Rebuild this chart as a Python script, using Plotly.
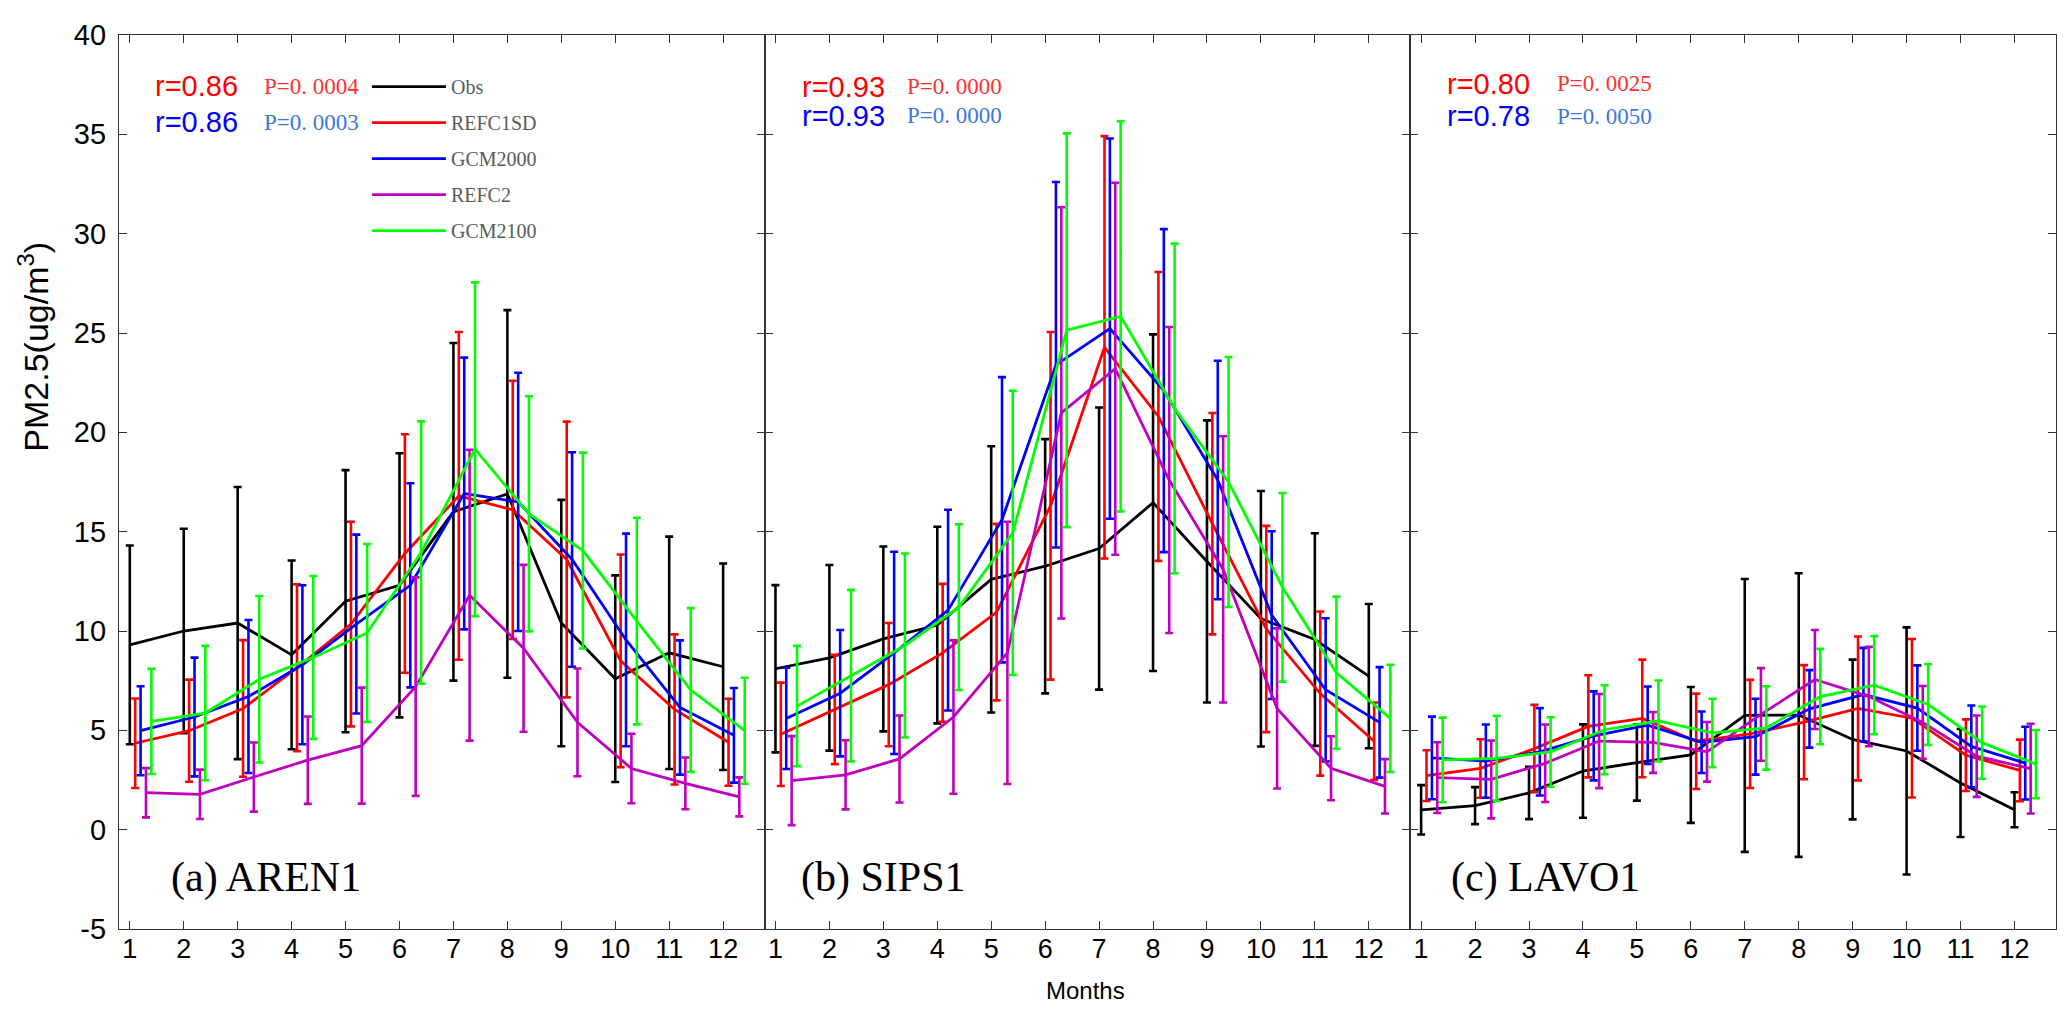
import plotly.graph_objects as go

months = list(range(1, 13))
series_names = ["Obs", "REFC1SD", "GCM2000", "REFC2", "GCM2100"]
series_colors = ["#000000", "#ff0000", "#0000ff", "#bf00bf", "#00ff00"]
x_ticks = list(range(1, 13))
y_ticks = list(range(-5, 41, 5))
y_tick_text = ["-5", "0", "5", "10", "15", "20", "25", "30", "35", "40"]

# (a) AREN1
aren1_obs_mean = [9.3, 10.0, 10.4, 8.8, 11.5, 12.3, 16.0, 16.9, 10.4, 7.6, 8.9, 8.2]
aren1_obs_std = [5.0, 5.15, 6.85, 4.75, 6.6, 6.65, 8.5, 9.25, 6.2, 5.2, 5.85, 5.2]
aren1_refc1sd_mean = [4.35, 4.98, 6.1, 8.15, 10.35, 13.9, 16.8, 16.1, 13.6, 8.5, 6.05, 4.4]
aren1_refc1sd_std = [2.25, 2.57, 3.44, 4.2, 5.15, 6.0, 8.25, 6.5, 6.94, 5.35, 3.78, 2.19]
aren1_gcm2000_mean = [4.98, 5.67, 6.7, 8.3, 10.35, 12.3, 16.92, 16.5, 13.6, 9.55, 6.15, 4.75]
aren1_gcm2000_std = [2.24, 2.99, 3.85, 4.0, 4.5, 5.14, 6.84, 6.5, 5.4, 5.35, 3.38, 2.38]
aren1_refc2_mean = [1.86, 1.78, 2.65, 3.5, 4.23, 7.2, 11.8, 9.13, 5.4, 3.08, 2.33, 1.65]
aren1_refc2_std = [1.24, 1.24, 1.74, 2.2, 2.92, 5.5, 7.32, 4.2, 2.71, 1.75, 1.3, 0.98]
aren1_gcm2100_mean = [5.45, 5.87, 7.57, 8.67, 9.9, 13.95, 19.15, 15.9, 14.05, 10.5, 7.03, 4.98]
aren1_gcm2100_std = [2.65, 3.38, 4.19, 4.1, 4.48, 6.6, 8.4, 5.92, 4.93, 5.2, 4.12, 2.67]

# (b) SIPS1
sips1_obs_mean = [8.1, 8.65, 9.6, 10.3, 12.6, 13.26, 14.15, 16.46, 13.5, 10.62, 9.57, 7.73]
sips1_obs_std = [4.21, 4.67, 4.65, 4.95, 6.7, 6.4, 7.1, 8.47, 7.1, 6.43, 5.35, 3.63]
sips1_refc1sd_mean = [4.8, 6.05, 7.3, 8.9, 10.95, 16.3, 24.28, 20.8, 15.4, 10.1, 6.85, 4.45]
sips1_refc1sd_std = [2.6, 2.75, 3.1, 3.47, 4.44, 8.75, 10.63, 7.27, 5.57, 5.19, 4.13, 1.95]
sips1_gcm2000_mean = [5.6, 6.87, 8.9, 11.05, 15.6, 23.4, 25.22, 22.1, 17.6, 10.8, 7.04, 5.4]
sips1_gcm2000_std = [2.55, 3.18, 5.09, 5.05, 7.18, 9.2, 9.57, 8.13, 6.0, 4.22, 3.6, 2.78]
sips1_refc2_mean = [2.47, 2.76, 3.56, 5.67, 8.9, 20.98, 23.2, 17.6, 13.1, 6.1, 3.09, 2.18]
sips1_refc2_std = [2.24, 1.74, 2.19, 3.86, 6.6, 10.35, 9.36, 7.7, 6.7, 4.03, 1.61, 1.37]
sips1_gcm2100_mean = [6.22, 7.75, 9.27, 11.2, 14.94, 25.14, 25.84, 21.2, 17.5, 12.2, 7.9, 5.6]
sips1_gcm2100_std = [3.03, 4.32, 4.63, 4.17, 7.15, 9.91, 9.82, 8.3, 6.29, 4.75, 3.83, 2.7]

# (c) LAVO1
lavo1_obs_mean = [1.0, 1.21, 1.85, 2.95, 3.38, 3.76, 5.75, 5.77, 4.54, 3.96, 2.35, 1.0]
lavo1_obs_std = [1.24, 0.93, 1.32, 2.35, 1.92, 3.42, 6.87, 7.14, 4.02, 6.22, 2.72, 0.88]
lavo1_refc1sd_mean = [2.72, 3.08, 4.08, 5.2, 5.6, 4.45, 4.82, 5.41, 6.1, 5.61, 3.75, 2.98]
lavo1_refc1sd_std = [1.28, 1.47, 2.2, 2.57, 2.96, 2.4, 2.72, 2.87, 3.62, 3.99, 1.8, 1.55]
lavo1_gcm2000_mean = [3.61, 3.45, 3.92, 4.72, 5.26, 4.4, 4.68, 6.08, 6.8, 6.12, 4.19, 3.35]
lavo1_gcm2000_std = [2.08, 1.84, 2.2, 2.24, 1.95, 1.55, 1.91, 1.95, 2.35, 2.15, 2.06, 1.83]
lavo1_refc2_mean = [2.62, 2.53, 3.34, 4.46, 4.39, 3.92, 5.8, 7.56, 6.7, 5.4, 3.7, 3.07]
lavo1_refc2_std = [1.78, 1.96, 1.95, 2.37, 1.53, 1.5, 2.33, 2.49, 2.5, 1.83, 2.05, 2.26]
lavo1_gcm2100_mean = [3.51, 3.59, 3.91, 5.03, 5.47, 4.87, 5.12, 6.7, 7.27, 6.3, 4.38, 3.3]
lavo1_gcm2100_std = [2.13, 2.14, 1.75, 2.24, 2.04, 1.72, 2.1, 2.4, 2.47, 2.03, 1.82, 1.72]

panel_labels = ["(a) AREN1", "(b) SIPS1", "(c) LAVO1"]
r_red = ["r=0.86", "r=0.93", "r=0.80"]
r_blue = ["r=0.86", "r=0.93", "r=0.78"]
p_red = ["P=0. 0004", "P=0. 0000", "P=0. 0025"]
p_blue = ["P=0. 0003", "P=0. 0000", "P=0. 0050"]

panels = [
    [(aren1_obs_mean, aren1_obs_std), (aren1_refc1sd_mean, aren1_refc1sd_std),
     (aren1_gcm2000_mean, aren1_gcm2000_std), (aren1_refc2_mean, aren1_refc2_std),
     (aren1_gcm2100_mean, aren1_gcm2100_std)],
    [(sips1_obs_mean, sips1_obs_std), (sips1_refc1sd_mean, sips1_refc1sd_std),
     (sips1_gcm2000_mean, sips1_gcm2000_std), (sips1_refc2_mean, sips1_refc2_std),
     (sips1_gcm2100_mean, sips1_gcm2100_std)],
    [(lavo1_obs_mean, lavo1_obs_std), (lavo1_refc1sd_mean, lavo1_refc1sd_std),
     (lavo1_gcm2000_mean, lavo1_gcm2000_std), (lavo1_refc2_mean, lavo1_refc2_std),
     (lavo1_gcm2100_mean, lavo1_gcm2100_std)],
]

SANS = "Liberation Sans, Arial, sans-serif"
SERIF = "Liberation Serif, Times New Roman, serif"
AXC = "#333333"

fig = go.Figure()
for p, panel in enumerate(panels):
    xa = "x" if p == 0 else f"x{p+1}"
    ya = "y" if p == 0 else f"y{p+1}"
    for s, (mean, std) in enumerate(panel):
        xs = [m + 0.1 * s for m in months]
        fig.add_trace(go.Scatter(
            x=xs, y=mean, mode="lines", name=series_names[s],
            line=dict(color=series_colors[s], width=2.8),
            error_y=dict(type="data", array=std, symmetric=True,
                         color=series_colors[s], thickness=2.6, width=4),
            xaxis=xa, yaxis=ya, legendgroup=series_names[s],
            showlegend=(p == 0),
        ))

layout = dict(
    width=2067, height=1024,
    margin=dict(l=111, r=19, t=27, b=103),
    paper_bgcolor="white", plot_bgcolor="white",
    font=dict(family=SANS, color="black"),
    legend=dict(x=0.128, y=0.964, xanchor="left", yanchor="top",
                bgcolor="rgba(0,0,0,0)", font=dict(family=SERIF, size=20, color="#5a5a5a"),
                tracegroupgap=7, itemwidth=74),
)
for p in range(3):
    xk = "xaxis" if p == 0 else f"xaxis{p+1}"
    yk = "yaxis" if p == 0 else f"yaxis{p+1}"
    layout[xk] = dict(
        domain=[p / 3, (p + 1) / 3], anchor="y" if p == 0 else f"y{p+1}",
        range=[0.8, 12.77], tickvals=x_ticks, ticktext=[str(t) for t in x_ticks],
        ticks="inside", ticklen=8, tickwidth=1.4, tickcolor=AXC,
        showline=True, linecolor=AXC, linewidth=1.3, mirror="ticks",
        showgrid=False, zeroline=False,
        tickfont=dict(family=SANS, size=27, color="black"), ticklabelstandoff=-5,
    )
    layout[yk] = dict(
        domain=[0, 1], anchor="x" if p == 0 else f"x{p+1}",
        range=[-5, 40], tickvals=y_ticks, ticktext=y_tick_text,
        ticks="inside", ticklen=8, tickwidth=1.4,
        tickcolor=AXC, showline=True, linecolor=AXC, linewidth=1.3, mirror="ticks",
        showgrid=False, zeroline=False, showticklabels=(p == 0),
        tickfont=dict(family=SANS, size=29, color="black"), ticklabelstandoff=6,
    )
fig.update_layout(**layout)

label_x = [0.078, 0.053, 0.060]
r_x = [0.053, 0.055, 0.054]
p_x = [0.222, 0.218, 0.224]
r_y1 = [37.42, 37.4, 37.55]
r_y2 = [35.6, 35.94, 35.9]
for p in range(3):
    xd = "x domain" if p == 0 else f"x{p+1} domain"
    yr = "y" if p == 0 else f"y{p+1}"
    fig.add_annotation(x=label_x[p], y=-2.4, xref=xd, yref=yr, text=panel_labels[p],
                       showarrow=False, xanchor="left", yanchor="middle",
                       font=dict(family=SERIF, size=42, color="black"))
    fig.add_annotation(x=r_x[p], y=r_y1[p], xref=xd, yref=yr, text=r_red[p],
                       showarrow=False, xanchor="left", yanchor="middle",
                       font=dict(family=SANS, size=29, color="#ff0000"))
    fig.add_annotation(x=r_x[p], y=r_y2[p], xref=xd, yref=yr, text=r_blue[p],
                       showarrow=False, xanchor="left", yanchor="middle",
                       font=dict(family=SANS, size=29, color="#0000ff"))
    fig.add_annotation(x=p_x[p], y=r_y1[p], xref=xd, yref=yr, text=p_red[p],
                       showarrow=False, xanchor="left", yanchor="middle",
                       font=dict(family=SERIF, size=23, color="#ff3030"))
    fig.add_annotation(x=p_x[p], y=r_y2[p], xref=xd, yref=yr, text=p_blue[p],
                       showarrow=False, xanchor="left", yanchor="middle",
                       font=dict(family=SERIF, size=23, color="#3a78dc"))

fig.add_annotation(x=-0.044, y=24.3, xref="paper", yref="y", text="PM2.5(ug/m<sup>3</sup>)",
                   textangle=-90, showarrow=False, xanchor="center", yanchor="middle",
                   font=dict(family=SANS, size=34, color="black"))
fig.add_annotation(x=0.499, y=-0.069, xref="paper", yref="paper", text="Months",
                   showarrow=False, xanchor="center", yanchor="middle",
                   font=dict(family=SANS, size=24, color="black"))

fig.write_html("out.html")
